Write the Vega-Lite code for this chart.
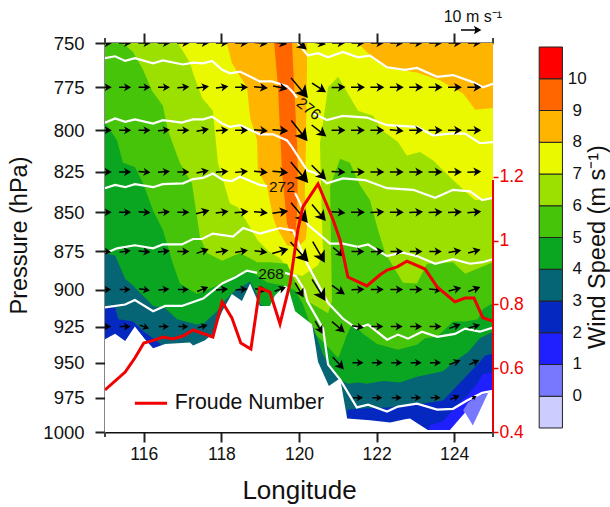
{"$schema":"https://vega.github.io/schema/vega-lite/v6.json","width":388,"height":389,"autosize":"none","padding":{"left":105,"top":43,"right":117,"bottom":75},"background":"white","config":{"view":{"stroke":null},"font":"Liberation Sans","text":{"font":"Liberation Sans"},"axis":{"labelFont":"Liberation Sans","titleFont":"Liberation Sans"}},
"datasets":{
"poly":[
{"g":"amber","lon":115,"p":750},{"g":"amber","lon":125,"p":750},{"g":"amber","lon":125,"p":1000},{"g":"amber","lon":115,"p":1000},
{"g":"orange","lon":119.36,"p":750},{"g":"orange","lon":119.46,"p":775},{"g":"orange","lon":119.51,"p":800},{"g":"orange","lon":119.56,"p":824},{"g":"orange","lon":119.69,"p":857},{"g":"orange","lon":119.77,"p":863},{"g":"orange","lon":119.9,"p":863},{"g":"orange","lon":119.95,"p":853},{"g":"orange","lon":119.97,"p":822},{"g":"orange","lon":119.95,"p":808},{"g":"orange","lon":119.82,"p":750},
{"g":"yellow","lon":115,"p":750},{"g":"yellow","lon":118.14,"p":750},{"g":"yellow","lon":118.27,"p":761},{"g":"yellow","lon":118.4,"p":766},{"g":"yellow","lon":118.66,"p":775},{"g":"yellow","lon":118.74,"p":792.5},{"g":"yellow","lon":118.92,"p":806},{"g":"yellow","lon":118.94,"p":824},{"g":"yellow","lon":119.18,"p":834.5},{"g":"yellow","lon":119.33,"p":853},{"g":"yellow","lon":119.43,"p":860},{"g":"yellow","lon":119.69,"p":871},{"g":"yellow","lon":119.97,"p":872.5},{"g":"yellow","lon":120.18,"p":867},{"g":"yellow","lon":120.21,"p":858},{"g":"yellow","lon":120.15,"p":838},{"g":"yellow","lon":120.18,"p":808},{"g":"yellow","lon":120.21,"p":755.7},{"g":"yellow","lon":120.21,"p":750},{"g":"yellow","lon":121.52,"p":750},{"g":"yellow","lon":121.78,"p":755.7},{"g":"yellow","lon":122.27,"p":764},{"g":"yellow","lon":123.04,"p":766.5},{"g":"yellow","lon":123.63,"p":771},{"g":"yellow","lon":124.23,"p":778.5},{"g":"yellow","lon":124.54,"p":788},{"g":"yellow","lon":125,"p":787},{"g":"yellow","lon":125,"p":1000},{"g":"yellow","lon":115,"p":1000},
{"g":"yg","lon":115,"p":750},{"g":"yg","lon":116.88,"p":750},{"g":"yg","lon":117.19,"p":761},{"g":"yg","lon":117.27,"p":767},{"g":"yg","lon":117.5,"p":781},{"g":"yg","lon":117.78,"p":788.5},{"g":"yg","lon":117.91,"p":819.5},{"g":"yg","lon":118.22,"p":844.5},{"g":"yg","lon":118.43,"p":847},{"g":"yg","lon":118.94,"p":868},{"g":"yg","lon":119.2,"p":874.5},{"g":"yg","lon":119.51,"p":879.6},{"g":"yg","lon":119.85,"p":889.5},{"g":"yg","lon":120.08,"p":891},{"g":"yg","lon":120.49,"p":884},{"g":"yg","lon":120.62,"p":876},{"g":"yg","lon":120.59,"p":855},{"g":"yg","lon":120.54,"p":807.7},{"g":"yg","lon":120.75,"p":775},{"g":"yg","lon":121.01,"p":769},{"g":"yg","lon":121.26,"p":778.5},{"g":"yg","lon":121.52,"p":788.5},{"g":"yg","lon":121.91,"p":791.5},{"g":"yg","lon":122.14,"p":800},{"g":"yg","lon":122.55,"p":807},{"g":"yg","lon":122.78,"p":815},{"g":"yg","lon":123.12,"p":813},{"g":"yg","lon":123.45,"p":818},{"g":"yg","lon":123.97,"p":830},{"g":"yg","lon":124.33,"p":838},{"g":"yg","lon":124.54,"p":842.5},{"g":"yg","lon":125,"p":840.5},{"g":"yg","lon":125,"p":1000},{"g":"yg","lon":115,"p":1000},
{"g":"green","lon":115,"p":750},{"g":"green","lon":115.46,"p":750},{"g":"green","lon":115.72,"p":755},{"g":"green","lon":115.98,"p":765},{"g":"green","lon":116.21,"p":777},{"g":"green","lon":116.49,"p":785.5},{"g":"green","lon":116.62,"p":800},{"g":"green","lon":116.93,"p":819.6},{"g":"green","lon":117.24,"p":832},{"g":"green","lon":117.45,"p":866},{"g":"green","lon":117.63,"p":876},{"g":"green","lon":118.02,"p":881},{"g":"green","lon":118.48,"p":876},{"g":"green","lon":118.92,"p":882},{"g":"green","lon":119.25,"p":882},{"g":"green","lon":119.69,"p":883},{"g":"green","lon":119.95,"p":897},{"g":"green","lon":120.21,"p":907.6},{"g":"green","lon":120.75,"p":916},{"g":"green","lon":120.85,"p":907.6},{"g":"green","lon":120.82,"p":862},{"g":"green","lon":120.8,"p":834},{"g":"green","lon":121.06,"p":817},{"g":"green","lon":121.31,"p":819.5},{"g":"green","lon":121.57,"p":833},{"g":"green","lon":121.83,"p":842.5},{"g":"green","lon":122.04,"p":861.5},{"g":"green","lon":122.22,"p":876},{"g":"green","lon":122.68,"p":895.5},{"g":"green","lon":123.04,"p":896},{"g":"green","lon":123.3,"p":883},{"g":"green","lon":123.97,"p":882},{"g":"green","lon":124.28,"p":889.5},{"g":"green","lon":125,"p":882},{"g":"green","lon":125,"p":1000},{"g":"green","lon":115,"p":1000},
{"g":"dkgreen","lon":115,"p":795.4},{"g":"dkgreen","lon":115.31,"p":806},{"g":"dkgreen","lon":115.46,"p":819.5},{"g":"dkgreen","lon":115.77,"p":822},{"g":"dkgreen","lon":115.98,"p":832},{"g":"dkgreen","lon":116.24,"p":849},{"g":"dkgreen","lon":116.49,"p":861},{"g":"dkgreen","lon":116.75,"p":883},{"g":"dkgreen","lon":116.93,"p":896},{"g":"dkgreen","lon":117.37,"p":903},{"g":"dkgreen","lon":118.02,"p":896},{"g":"dkgreen","lon":118.4,"p":890},{"g":"dkgreen","lon":118.74,"p":887.5},{"g":"dkgreen","lon":119.18,"p":895.4},{"g":"dkgreen","lon":119.59,"p":897.4},{"g":"dkgreen","lon":119.9,"p":900.7},{"g":"dkgreen","lon":120.1,"p":909.7},{"g":"dkgreen","lon":120.36,"p":928.5},{"g":"dkgreen","lon":120.75,"p":939},{"g":"dkgreen","lon":121.01,"p":947},{"g":"dkgreen","lon":121.24,"p":930.5},{"g":"dkgreen","lon":121.37,"p":923},{"g":"dkgreen","lon":121.65,"p":930},{"g":"dkgreen","lon":122.01,"p":937},{"g":"dkgreen","lon":122.3,"p":939},{"g":"dkgreen","lon":122.55,"p":941},{"g":"dkgreen","lon":123.04,"p":937.5},{"g":"dkgreen","lon":123.25,"p":933},{"g":"dkgreen","lon":123.56,"p":932},{"g":"dkgreen","lon":123.97,"p":921.5},{"g":"dkgreen","lon":124.28,"p":921.5},{"g":"dkgreen","lon":124.61,"p":920},{"g":"dkgreen","lon":124.74,"p":913},{"g":"dkgreen","lon":125,"p":909},{"g":"dkgreen","lon":125,"p":1000},{"g":"dkgreen","lon":115,"p":1000},
{"g":"teal","lon":115,"p":876.3},{"g":"teal","lon":115.26,"p":877.6},{"g":"teal","lon":115.52,"p":892.8},{"g":"teal","lon":115.72,"p":897.4},{"g":"teal","lon":116.24,"p":911},{"g":"teal","lon":116.55,"p":912.5},{"g":"teal","lon":116.86,"p":920},{"g":"teal","lon":117.37,"p":923.6},{"g":"teal","lon":117.53,"p":923},{"g":"teal","lon":117.89,"p":914.6},{"g":"teal","lon":118.02,"p":909},{"g":"teal","lon":118.35,"p":900.7},{"g":"teal","lon":118.74,"p":894.7},{"g":"teal","lon":118.94,"p":904},{"g":"teal","lon":118.99,"p":910},{"g":"teal","lon":119.33,"p":912.5},{"g":"teal","lon":119.64,"p":928.5},{"g":"teal","lon":120.15,"p":928.5},{"g":"teal","lon":120.34,"p":923.6},{"g":"teal","lon":120.62,"p":944.5},{"g":"teal","lon":120.88,"p":956},{"g":"teal","lon":121.06,"p":962},{"g":"teal","lon":121.26,"p":965},{"g":"teal","lon":121.52,"p":964},{"g":"teal","lon":121.75,"p":965},{"g":"teal","lon":122.16,"p":963},{"g":"teal","lon":122.6,"p":964},{"g":"teal","lon":123.04,"p":960},{"g":"teal","lon":123.71,"p":956},{"g":"teal","lon":124.02,"p":949},{"g":"teal","lon":124.36,"p":942.5},{"g":"teal","lon":124.66,"p":933},{"g":"teal","lon":125,"p":928.5},{"g":"teal","lon":125,"p":1000},{"g":"teal","lon":115,"p":1000},
{"g":"dkblueL","lon":115,"p":911.5},{"g":"dkblueL","lon":115.26,"p":912},{"g":"dkblueL","lon":115.34,"p":920},{"g":"dkblueL","lon":115.72,"p":921.5},{"g":"dkblueL","lon":115.98,"p":928},{"g":"dkblueL","lon":116.29,"p":934},{"g":"dkblueL","lon":116.67,"p":942.5},{"g":"dkblueL","lon":115,"p":942.5},
{"g":"dkblueR","lon":121.24,"p":983.5},{"g":"dkblueR","lon":121.57,"p":983},{"g":"dkblueR","lon":122.27,"p":982},{"g":"dkblueR","lon":122.78,"p":980.7},{"g":"dkblueR","lon":123.38,"p":978.5},{"g":"dkblueR","lon":123.71,"p":977},{"g":"dkblueR","lon":124.02,"p":968},{"g":"dkblueR","lon":124.23,"p":962},{"g":"dkblueR","lon":124.59,"p":951.5},{"g":"dkblueR","lon":124.8,"p":945},{"g":"dkblueR","lon":125,"p":943.7},{"g":"dkblueR","lon":125,"p":1000},{"g":"dkblueR","lon":121.24,"p":1000},
{"g":"blue","lon":123.32,"p":1000},{"g":"blue","lon":123.38,"p":995},{"g":"blue","lon":123.71,"p":992},{"g":"blue","lon":124.02,"p":982},{"g":"blue","lon":124.33,"p":973.6},{"g":"blue","lon":124.59,"p":965},{"g":"blue","lon":124.74,"p":958},{"g":"blue","lon":125,"p":957},{"g":"blue","lon":125,"p":1000},
{"g":"lav","lon":124.23,"p":984},{"g":"lav","lon":124.48,"p":995},{"g":"lav","lon":124.87,"p":971.5},{"g":"lav","lon":124.61,"p":973.6},{"g":"lav","lon":124.36,"p":978.5},
{"g":"terrain","lon":115,"p":933.7},{"g":"terrain","lon":115.26,"p":930},{"g":"terrain","lon":115.52,"p":935},{"g":"terrain","lon":115.77,"p":925},{"g":"terrain","lon":116.03,"p":933.7},{"g":"terrain","lon":116.24,"p":940},{"g":"terrain","lon":116.55,"p":937},{"g":"terrain","lon":117.19,"p":936},{"g":"terrain","lon":117.27,"p":938},{"g":"terrain","lon":117.58,"p":934.4},{"g":"terrain","lon":117.78,"p":930},{"g":"terrain","lon":118.02,"p":914.6},{"g":"terrain","lon":118.27,"p":903},{"g":"terrain","lon":118.53,"p":907.6},{"g":"terrain","lon":118.74,"p":896},{"g":"terrain","lon":118.99,"p":911},{"g":"terrain","lon":119.25,"p":911},{"g":"terrain","lon":119.38,"p":904},{"g":"terrain","lon":119.64,"p":897.4},{"g":"terrain","lon":119.72,"p":898.7},{"g":"terrain","lon":119.9,"p":914.6},{"g":"terrain","lon":120.34,"p":923.6},{"g":"terrain","lon":120.49,"p":949.3},{"g":"terrain","lon":120.77,"p":966.6},{"g":"terrain","lon":121.06,"p":961},{"g":"terrain","lon":121.24,"p":990},{"g":"terrain","lon":121.83,"p":991.4},{"g":"terrain","lon":122.35,"p":993},{"g":"terrain","lon":122.73,"p":990.7},{"g":"terrain","lon":122.86,"p":990},{"g":"terrain","lon":123.32,"p":998.6},{"g":"terrain","lon":123.89,"p":998.6},{"g":"terrain","lon":124.28,"p":985.7},{"g":"terrain","lon":124.48,"p":995},{"g":"terrain","lon":124.87,"p":971.5},{"g":"terrain","lon":125,"p":970},{"g":"terrain","lon":125,"p":1000},{"g":"terrain","lon":115,"p":1000}
],
"theta":[
{"k":"T","lon":119.97,"p":750},{"k":"T","lon":120.23,"p":757},{"k":"T","lon":120.49,"p":755.7},{"k":"T","lon":120.75,"p":758},{"k":"T","lon":121.13,"p":755},{"k":"T","lon":121.52,"p":758},{"k":"T","lon":121.83,"p":757},{"k":"T","lon":122.27,"p":763.6},{"k":"T","lon":122.73,"p":765},{"k":"T","lon":123.04,"p":764},{"k":"T","lon":123.56,"p":769},{"k":"T","lon":123.97,"p":768},{"k":"T","lon":124.48,"p":772},{"k":"T","lon":124.74,"p":775},{"k":"T","lon":125,"p":773},
{"k":"A1","lon":115,"p":758.5},{"k":"A1","lon":115.26,"p":757.4},{"k":"A1","lon":115.52,"p":760},{"k":"A1","lon":115.77,"p":758.5},{"k":"A1","lon":116.24,"p":761.4},{"k":"A1","lon":116.49,"p":759.7},{"k":"A1","lon":117.01,"p":762},{"k":"A1","lon":117.27,"p":761},{"k":"A1","lon":117.53,"p":761.4},{"k":"A1","lon":117.76,"p":760},{"k":"A1","lon":118.02,"p":765},{"k":"A1","lon":118.22,"p":767},{"k":"A1","lon":118.48,"p":766},{"k":"A1","lon":118.99,"p":771.6},{"k":"A1","lon":119.3,"p":771.6},{"k":"A1","lon":119.69,"p":774.4},{"k":"A1","lon":119.85,"p":778},{"k":"A1","lon":119.95,"p":781},
{"k":"A2","lon":120.36,"p":790},{"k":"A2","lon":120.72,"p":794},{"k":"A2","lon":121.13,"p":791.5},{"k":"A2","lon":121.75,"p":792.5},{"k":"A2","lon":122.27,"p":797},{"k":"A2","lon":123.04,"p":798},{"k":"A2","lon":123.45,"p":803},{"k":"A2","lon":123.89,"p":802},{"k":"A2","lon":124.28,"p":802},{"k":"A2","lon":124.66,"p":807.7},{"k":"A2","lon":125,"p":807},
{"k":"B","lon":115,"p":795.5},{"k":"B","lon":115.26,"p":793},{"k":"B","lon":115.52,"p":795},{"k":"B","lon":115.77,"p":793.6},{"k":"B","lon":116.24,"p":796},{"k":"B","lon":116.49,"p":794},{"k":"B","lon":116.98,"p":795.5},{"k":"B","lon":117.27,"p":793.6},{"k":"B","lon":117.53,"p":793.6},{"k":"B","lon":117.76,"p":792},{"k":"B","lon":118.02,"p":796},{"k":"B","lon":118.22,"p":798},{"k":"B","lon":118.48,"p":797},{"k":"B","lon":118.99,"p":802.4},{"k":"B","lon":119.33,"p":802.4},{"k":"B","lon":119.69,"p":806},{"k":"B","lon":119.82,"p":810},{"k":"B","lon":120.21,"p":824},{"k":"B","lon":120.41,"p":825.6},{"k":"B","lon":120.72,"p":832},{"k":"B","lon":121.13,"p":829},{"k":"B","lon":121.7,"p":830},{"k":"B","lon":122.27,"p":835},{"k":"B","lon":122.94,"p":836},{"k":"B","lon":123.51,"p":841},{"k":"B","lon":123.97,"p":836},{"k":"B","lon":124.41,"p":837},{"k":"B","lon":124.72,"p":842.4},{"k":"B","lon":125,"p":841},
{"k":"C1","lon":115,"p":835},{"k":"C1","lon":115.26,"p":833},{"k":"C1","lon":115.52,"p":834.4},{"k":"C1","lon":115.77,"p":832.5},{"k":"C1","lon":116.24,"p":834.4},{"k":"C1","lon":116.49,"p":832.5},{"k":"C1","lon":117.01,"p":832},{"k":"C1","lon":117.27,"p":829.4},{"k":"C1","lon":117.53,"p":828.7},{"k":"C1","lon":117.78,"p":826},{"k":"C1","lon":118.04,"p":830},{"k":"C1","lon":118.27,"p":830.6},{"k":"C1","lon":118.48,"p":828},{"k":"C1","lon":118.99,"p":833},{"k":"C1","lon":119.18,"p":833.7},
{"k":"C2","lon":119.9,"p":838},{"k":"C2","lon":120.03,"p":844.4},{"k":"C2","lon":120.23,"p":858},{"k":"C2","lon":120.62,"p":866},{"k":"C2","lon":120.8,"p":870},{"k":"C2","lon":121.13,"p":870},{"k":"C2","lon":121.52,"p":872},{"k":"C2","lon":121.78,"p":870.5},{"k":"C2","lon":122.27,"p":878},{"k":"C2","lon":122.65,"p":875.6},{"k":"C2","lon":123.04,"p":878},{"k":"C2","lon":123.51,"p":883},{"k":"C2","lon":123.97,"p":880},{"k":"C2","lon":124.41,"p":883},{"k":"C2","lon":124.74,"p":882},{"k":"C2","lon":125,"p":880},
{"k":"D","lon":115,"p":876.3},{"k":"D","lon":115.31,"p":873},{"k":"D","lon":115.77,"p":871},{"k":"D","lon":116.24,"p":873},{"k":"D","lon":116.49,"p":870.5},{"k":"D","lon":116.98,"p":870.5},{"k":"D","lon":117.27,"p":867},{"k":"D","lon":117.5,"p":867},{"k":"D","lon":117.78,"p":863.5},{"k":"D","lon":118.3,"p":865.4},{"k":"D","lon":118.56,"p":860},{"k":"D","lon":118.99,"p":863.5},{"k":"D","lon":119.51,"p":860},{"k":"D","lon":119.85,"p":861.6},{"k":"D","lon":119.97,"p":869},{"k":"D","lon":120.21,"p":883},{"k":"D","lon":120.75,"p":909},{"k":"D","lon":121.13,"p":919.5},{"k":"D","lon":121.49,"p":926.4},{"k":"D","lon":121.78,"p":923.6},{"k":"D","lon":122.27,"p":934},{"k":"D","lon":122.55,"p":930.5},{"k":"D","lon":122.81,"p":933.3},{"k":"D","lon":123.17,"p":928.5},{"k":"D","lon":123.56,"p":932},{"k":"D","lon":124.02,"p":930},{"k":"D","lon":124.28,"p":926.4},{"k":"D","lon":124.66,"p":928.5},{"k":"D","lon":125,"p":925.7},
{"k":"E1","lon":115,"p":912},{"k":"E1","lon":115.52,"p":910},{"k":"E1","lon":115.77,"p":907},{"k":"E1","lon":116.24,"p":914.6},{"k":"E1","lon":116.55,"p":911},{"k":"E1","lon":116.98,"p":911},{"k":"E1","lon":117.53,"p":906},{"k":"E1","lon":118.02,"p":896},{"k":"E1","lon":118.35,"p":892},{"k":"E1","lon":118.66,"p":887.5},{"k":"E1","lon":118.92,"p":889},
{"k":"E2","lon":119.64,"p":889},{"k":"E2","lon":119.92,"p":891},{"k":"E2","lon":120.15,"p":900.7},{"k":"E2","lon":120.21,"p":907.6},{"k":"E2","lon":120.62,"p":926.4},{"k":"E2","lon":120.75,"p":951.4},{"k":"E2","lon":121.06,"p":962},{"k":"E2","lon":121.49,"p":982},{"k":"E2","lon":121.78,"p":980},{"k":"E2","lon":122.27,"p":985},{"k":"E2","lon":122.55,"p":981.4},{"k":"E2","lon":123.04,"p":979.3},{"k":"E2","lon":123.56,"p":983.6},{"k":"E2","lon":123.97,"p":983},{"k":"E2","lon":124.33,"p":977},{"k":"E2","lon":124.72,"p":971.5},{"k":"E2","lon":125,"p":970}
],
"wind":[
{"lon":115,"p":750,"a":0,"s":5.8},{"lon":115.5,"p":750,"a":0,"s":5.8},{"lon":116,"p":750,"a":0,"s":5.8},{"lon":116.5,"p":750,"a":0,"s":5.8},{"lon":117,"p":750,"a":0,"s":5.8},{"lon":117.5,"p":750,"a":0,"s":5.8},{"lon":118,"p":750,"a":0,"s":5.8},{"lon":118.5,"p":750,"a":0,"s":6},{"lon":119,"p":750,"a":5,"s":6},{"lon":119.5,"p":750,"a":8,"s":6.5},{"lon":120,"p":750,"a":40,"s":9},{"lon":120.5,"p":750,"a":10,"s":6.5},{"lon":121,"p":750,"a":0,"s":6},{"lon":121.5,"p":750,"a":0,"s":6},{"lon":122,"p":750,"a":0,"s":6},{"lon":122.5,"p":750,"a":0,"s":6},{"lon":123,"p":750,"a":0,"s":6},{"lon":123.5,"p":750,"a":0,"s":6},{"lon":124,"p":750,"a":0,"s":6},{"lon":124.5,"p":750,"a":0,"s":6},
{"lon":115,"p":775,"a":0,"s":5.5},{"lon":115.5,"p":775,"a":0,"s":5.5},{"lon":116,"p":775,"a":0,"s":5.5},{"lon":116.5,"p":775,"a":0,"s":5.5},{"lon":117,"p":775,"a":-5,"s":5.5},{"lon":117.5,"p":775,"a":-8,"s":5.8},{"lon":118,"p":775,"a":-8,"s":5.8},{"lon":118.5,"p":775,"a":0,"s":6},{"lon":119,"p":775,"a":5,"s":6.5},{"lon":119.5,"p":775,"a":12,"s":7},{"lon":120,"p":775,"a":50,"s":13},{"lon":120.5,"p":775,"a":33,"s":8},{"lon":121,"p":775,"a":-2,"s":6.5},{"lon":121.5,"p":775,"a":0,"s":6.5},{"lon":122,"p":775,"a":0,"s":6.5},{"lon":122.5,"p":775,"a":0,"s":6.5},{"lon":123,"p":775,"a":0,"s":6.5},{"lon":123.5,"p":775,"a":0,"s":6.5},{"lon":124,"p":775,"a":0,"s":6.5},{"lon":124.5,"p":775,"a":0,"s":6.5},
{"lon":115,"p":800,"a":0,"s":5.5},{"lon":115.5,"p":800,"a":0,"s":5.5},{"lon":116,"p":800,"a":0,"s":5.5},{"lon":116.5,"p":800,"a":-5,"s":5.5},{"lon":117,"p":800,"a":0,"s":5.5},{"lon":117.5,"p":800,"a":-10,"s":5.8},{"lon":118,"p":800,"a":-5,"s":5.8},{"lon":118.5,"p":800,"a":0,"s":6},{"lon":119,"p":800,"a":5,"s":6.5},{"lon":119.5,"p":800,"a":5,"s":7.5},{"lon":120,"p":800,"a":52,"s":13},{"lon":120.5,"p":800,"a":38,"s":9},{"lon":121,"p":800,"a":0,"s":6.5},{"lon":121.5,"p":800,"a":0,"s":6.5},{"lon":122,"p":800,"a":0,"s":6.5},{"lon":122.5,"p":800,"a":5,"s":6.5},{"lon":123,"p":800,"a":0,"s":6.5},{"lon":123.5,"p":800,"a":0,"s":6.5},{"lon":124,"p":800,"a":0,"s":6.5},{"lon":124.5,"p":800,"a":0,"s":6.5},
{"lon":115,"p":825,"a":0,"s":5.5},{"lon":115.5,"p":825,"a":0,"s":5.5},{"lon":116,"p":825,"a":5,"s":5.5},{"lon":116.5,"p":825,"a":-5,"s":5.5},{"lon":117,"p":825,"a":0,"s":5.5},{"lon":117.5,"p":825,"a":-12,"s":5.8},{"lon":118,"p":825,"a":-5,"s":5.8},{"lon":118.5,"p":825,"a":-5,"s":6},{"lon":119,"p":825,"a":5,"s":6.5},{"lon":119.5,"p":825,"a":5,"s":7.5},{"lon":120,"p":825,"a":50,"s":13.5},{"lon":120.5,"p":825,"a":45,"s":10},{"lon":121,"p":825,"a":3,"s":6.5},{"lon":121.5,"p":825,"a":0,"s":6.5},{"lon":122,"p":825,"a":0,"s":6.5},{"lon":122.5,"p":825,"a":0,"s":6.5},{"lon":123,"p":825,"a":0,"s":6.5},{"lon":123.5,"p":825,"a":0,"s":6.5},{"lon":124,"p":825,"a":0,"s":6.5},{"lon":124.5,"p":825,"a":-3,"s":6.5},
{"lon":115,"p":850,"a":0,"s":5.5},{"lon":115.5,"p":850,"a":0,"s":5.5},{"lon":116,"p":850,"a":5,"s":5.5},{"lon":116.5,"p":850,"a":-5,"s":5.5},{"lon":117,"p":850,"a":0,"s":5.5},{"lon":117.5,"p":850,"a":-15,"s":6.5},{"lon":118,"p":850,"a":-8,"s":6},{"lon":118.5,"p":850,"a":-5,"s":6.5},{"lon":119,"p":850,"a":5,"s":6.5},{"lon":119.5,"p":850,"a":-8,"s":7.5},{"lon":120,"p":850,"a":50,"s":13},{"lon":120.5,"p":850,"a":50,"s":10.5},{"lon":121,"p":850,"a":5,"s":6.5},{"lon":121.5,"p":850,"a":0,"s":6.5},{"lon":122,"p":850,"a":-3,"s":6.5},{"lon":122.5,"p":850,"a":0,"s":6.5},{"lon":123,"p":850,"a":-3,"s":6.5},{"lon":123.5,"p":850,"a":-3,"s":6.5},{"lon":124,"p":850,"a":-3,"s":6.5},{"lon":124.5,"p":850,"a":-5,"s":6.5},
{"lon":115,"p":875,"a":8,"s":5},{"lon":115.5,"p":875,"a":-8,"s":5.2},{"lon":116,"p":875,"a":5,"s":5.5},{"lon":116.5,"p":875,"a":-5,"s":5.5},{"lon":117,"p":875,"a":0,"s":5.5},{"lon":117.5,"p":875,"a":-20,"s":6},{"lon":118,"p":875,"a":-10,"s":6},{"lon":118.5,"p":875,"a":-10,"s":6},{"lon":119,"p":875,"a":8,"s":6},{"lon":119.5,"p":875,"a":-16,"s":8},{"lon":120,"p":875,"a":48,"s":13.5},{"lon":120.5,"p":875,"a":60,"s":12},{"lon":121,"p":875,"a":40,"s":6.5},{"lon":121.5,"p":875,"a":0,"s":6},{"lon":122,"p":875,"a":-3,"s":6},{"lon":122.5,"p":875,"a":0,"s":5.8},{"lon":123,"p":875,"a":0,"s":5.8},{"lon":123.5,"p":875,"a":0,"s":5.8},{"lon":124,"p":875,"a":-10,"s":6},{"lon":124.5,"p":875,"a":-15,"s":6},
{"lon":115,"p":900,"a":0,"s":5},{"lon":115.5,"p":900,"a":0,"s":5},{"lon":116,"p":900,"a":10,"s":5},{"lon":116.5,"p":900,"a":-5,"s":5},{"lon":117,"p":900,"a":0,"s":5},{"lon":117.5,"p":900,"a":-22,"s":5.5},{"lon":118,"p":900,"a":-5,"s":5.5},{"lon":118.5,"p":900,"a":-5,"s":5.5},{"lon":119,"p":900,"a":8,"s":5.5},{"lon":119.5,"p":900,"a":-20,"s":5.5},{"lon":120,"p":900,"a":60,"s":8},{"lon":120.5,"p":900,"a":58,"s":12.5},{"lon":121,"p":900,"a":35,"s":7.5},{"lon":121.5,"p":900,"a":-3,"s":6},{"lon":122,"p":900,"a":0,"s":6},{"lon":122.5,"p":900,"a":0,"s":6},{"lon":123,"p":900,"a":0,"s":6},{"lon":123.5,"p":900,"a":5,"s":6},{"lon":124,"p":900,"a":-15,"s":6},{"lon":124.5,"p":900,"a":-20,"s":6},
{"lon":115,"p":925,"a":0,"s":5},{"lon":115.5,"p":925,"a":0,"s":5},{"lon":116,"p":925,"a":20,"s":4.5},{"lon":116.5,"p":925,"a":0,"s":4.5},{"lon":117,"p":925,"a":0,"s":4.5},{"lon":117.5,"p":925,"a":-15,"s":4.5},{"lon":120.5,"p":925,"a":60,"s":7},{"lon":121,"p":925,"a":40,"s":8},{"lon":121.5,"p":925,"a":10,"s":5.5},{"lon":122,"p":925,"a":0,"s":5.5},{"lon":122.5,"p":925,"a":0,"s":5.5},{"lon":123,"p":925,"a":0,"s":5.5},{"lon":123.5,"p":925,"a":0,"s":5.5},{"lon":124,"p":925,"a":-20,"s":5.5},{"lon":124.5,"p":925,"a":-15,"s":5.5},
{"lon":121,"p":950,"a":48,"s":8},{"lon":121.5,"p":950,"a":0,"s":5},{"lon":122,"p":950,"a":0,"s":5},{"lon":122.5,"p":950,"a":0,"s":5},{"lon":123,"p":950,"a":0,"s":5},{"lon":123.5,"p":950,"a":0,"s":5},{"lon":124,"p":950,"a":-20,"s":5.5},{"lon":124.5,"p":950,"a":-25,"s":5},
{"lon":121.5,"p":975,"a":0,"s":4.5},{"lon":122,"p":975,"a":0,"s":4.5},{"lon":122.5,"p":975,"a":0,"s":4.5},{"lon":123,"p":975,"a":0,"s":4.5},{"lon":123.5,"p":975,"a":0,"s":4.5},{"lon":124,"p":975,"a":-22,"s":4.5},{"lon":124.5,"p":975,"a":-30,"s":2}
],
"froude":[
{"lon":115,"f":0.532},{"lon":115.52,"f":0.588},{"lon":115.77,"f":0.632},{"lon":116,"f":0.679},{"lon":116.29,"f":0.689},{"lon":116.49,"f":0.698},{"lon":116.75,"f":0.692},{"lon":117.01,"f":0.701},{"lon":117.27,"f":0.72},{"lon":117.78,"f":0.698},{"lon":118.02,"f":0.808},{"lon":118.27,"f":0.758},{"lon":118.5,"f":0.679},{"lon":118.76,"f":0.66},{"lon":118.99,"f":0.852},{"lon":119.25,"f":0.839},{"lon":119.51,"f":0.739},{"lon":119.77,"f":0.867},{"lon":119.97,"f":1.034},{"lon":120.1,"f":1.106},{"lon":120.49,"f":1.178},{"lon":120.88,"f":1.065},{"lon":121.06,"f":1.002},{"lon":121.26,"f":0.886},{"lon":121.75,"f":0.858},{"lon":122.09,"f":0.893},{"lon":122.27,"f":0.908},{"lon":122.53,"f":0.918},{"lon":122.78,"f":0.936},{"lon":123.25,"f":0.911},{"lon":123.56,"f":0.855},{"lon":124.02,"f":0.808},{"lon":124.28,"f":0.82},{"lon":124.51,"f":0.82},{"lon":124.74,"f":0.758},{"lon":125,"f":0.748}
],
"bar":[
{"lon":126.19,"lon2":126.79,"lo":-1,"hi":0,"c":"b00"},{"lon":126.19,"lon2":126.79,"lo":0,"hi":1,"c":"b01"},{"lon":126.19,"lon2":126.79,"lo":1,"hi":2,"c":"b02"},{"lon":126.19,"lon2":126.79,"lo":2,"hi":3,"c":"b03"},{"lon":126.19,"lon2":126.79,"lo":3,"hi":4,"c":"b04"},{"lon":126.19,"lon2":126.79,"lo":4,"hi":5,"c":"b05"},{"lon":126.19,"lon2":126.79,"lo":5,"hi":6,"c":"b06"},{"lon":126.19,"lon2":126.79,"lo":6,"hi":7,"c":"b07"},{"lon":126.19,"lon2":126.79,"lo":7,"hi":8,"c":"b08"},{"lon":126.19,"lon2":126.79,"lo":8,"hi":9,"c":"b09"},{"lon":126.19,"lon2":126.79,"lo":9,"hi":10,"c":"b10"},{"lon":126.19,"lon2":126.79,"lo":10,"hi":11,"c":"b11"}
]
},
"encoding":{
"x":{"field":"lon","type":"quantitative","scale":{"domain":[115,125],"nice":false,"zero":false},"axis":null},
"y":{"field":"p","type":"quantitative","scale":{"type":"log","domain":[750,1000],"nice":false,"reverse":true},"axis":null}
},
"layer":[
{"data":{"name":"poly"},"mark":{"type":"line","order":null,"filled":true,"strokeWidth":0,"clip":true},
"encoding":{
"x":{"field":"lon","type":"quantitative","scale":{"domain":[115,125],"nice":false,"zero":false},"axis":{"orient":"bottom","values":[116,118,120,122,124],"title":"Longitude","grid":false,"tickSize":10,"tickWidth":2,"tickColor":"#222","domainColor":"#111","domainWidth":2,"labelFontSize":17.5,"labelColor":"#111","labelPadding":3,"titleFontSize":26,"titleFontWeight":"normal","titleColor":"#111","titlePadding":15,"format":"d"}},
"y":{"field":"p","type":"quantitative","scale":{"type":"log","domain":[750,1000],"nice":false,"reverse":true},"axis":{"orient":"left","values":[750,775,800,825,850,875,900,925,950,975,1000],"title":"Pressure (hPa)","grid":false,"tickSize":10,"tickWidth":2,"tickColor":"#222","domainColor":"#111","domainWidth":2,"labelFontSize":18.5,"labelColor":"#111","labelPadding":11,"titleFontSize":23.5,"titleFontWeight":"normal","titleColor":"#111","titlePadding":11,"titleY":192,"format":"d"}},
"fill":{"field":"g","type":"nominal","legend":null,"scale":{"domain":["amber","orange","yellow","yg","green","dkgreen","teal","dkblueL","dkblueR","blue","lav","terrain"],"range":["#ffb400","#ff6600","#eaf900","#9be000","#46c40a","#0aa521","#056574","#0428c0","#0428c0","#2020ff","#7878ff","#ffffff"]}}
}},
{"data":{"name":"theta"},"mark":{"type":"line","color":"white","strokeWidth":2.2,"clip":true},
"encoding":{
"x":{"field":"lon","type":"quantitative","scale":{"domain":[115,125],"nice":false,"zero":false},"axis":{"orient":"top","values":[116,118,120,122,124],"title":null,"labels":false,"grid":false,"tickSize":10,"tickWidth":2,"tickColor":"#222","domainColor":"#111","domainWidth":2}},
"detail":{"field":"k","type":"nominal"}
}},
{"data":{"name":"wind"},"mark":{"type":"point","filled":true,"clip":true,"shape":"M-1,0L0.7,0M0.25,-0.42L1,0L0.25,0.42L0.45,0Z","color":"black","stroke":"black","strokeWidth":1.5,"opacity":1},
"encoding":{
"size":{"field":"s","type":"quantitative","legend":null,"scale":{"type":"pow","exponent":2,"domain":[0,10],"range":[0,361]}},
"angle":{"field":"a","type":"quantitative","scale":null}
}},
{"data":{"name":"froude"},"mark":{"type":"line","color":"#f00000","strokeWidth":3,"clip":true},
"encoding":{
"y":{"field":"f","type":"quantitative","scale":{"domain":[0.4,1.62],"nice":false,"zero":false},"axis":{"orient":"right","values":[0.4,0.6,0.8,1,1.2],"title":null,"grid":false,"domain":false,"tickColor":"#f00000","tickSize":5,"tickWidth":1.5,"labelColor":"#f00000","labelFontSize":17.5,"labelPadding":1,"labelExpr":"'' + datum.value"}}
}},
{"data":{"values":[{"lon":125,"f":0.4,"f2":1.19}]},"mark":{"type":"rule","color":"#f00000","strokeWidth":2},
"encoding":{
"y":{"field":"f","type":"quantitative","scale":{"domain":[0.4,1.62],"nice":false,"zero":false},"axis":null},
"y2":{"field":"f2"}
}},
{"data":{"values":[{"lon":115,"p":1000,"p2":1003.7},{"lon":125,"p":1000,"p2":1003.7},{"lon":115,"p":750,"p2":747.2},{"lon":125,"p":750,"p2":747.2}]},"mark":{"type":"rule","color":"#444","strokeWidth":2},
"encoding":{"y2":{"field":"p2"}}},
{"data":{"values":[{"lon":120.25,"p":787.5,"t":"276","r":38},{"lon":119.56,"p":834,"t":"272","r":0},{"lon":119.28,"p":890,"t":"268","r":0}]},"mark":{"type":"text","fontSize":15.5,"color":"#111","align":"center","baseline":"middle"},
"encoding":{"text":{"field":"t"},"angle":{"field":"r","type":"quantitative","scale":null}}},
{"data":{"values":[{"lon":115.77,"lon2":116.6,"p":979}]},"mark":{"type":"rule","color":"#f00000","strokeWidth":3},
"encoding":{"x2":{"field":"lon2"}}},
{"data":{"values":[{"lon":116.8,"p":979,"t":"Froude Number"}]},"mark":{"type":"text","fontSize":21.3,"color":"#111","align":"left","baseline":"middle"},
"encoding":{"text":{"field":"t"}}},
{"data":{"values":[{"lon":124.48,"p":735.5,"t":"10 m s⁻¹"}]},"mark":{"type":"text","fontSize":16,"color":"#111","align":"center","baseline":"middle"},
"encoding":{"text":{"field":"t"}}},
{"data":{"values":[{"lon":124.42,"p":742.8,"a":0,"s":10}]},"mark":{"type":"point","filled":true,"shape":"M-1,0L0.7,0M0.5,-0.28L1,0L0.5,0.28L0.6,0Z","color":"black","stroke":"black","strokeWidth":1.4,"opacity":1},
"encoding":{
"size":{"field":"s","type":"quantitative","legend":null,"scale":{"type":"pow","exponent":2,"domain":[0,10],"range":[0,361]}}
}},
{"data":{"name":"bar"},"mark":{"type":"rect","stroke":"#222","strokeWidth":1},
"encoding":{
"x2":{"field":"lon2"},
"y":{"field":"lo","type":"quantitative","scale":{"domain":[-1.126,11.126],"nice":false,"zero":false},"axis":null},
"y2":{"field":"hi"},
"fill":{"field":"c","type":"nominal","legend":null,"scale":{"domain":["b00","b01","b02","b03","b04","b05","b06","b07","b08","b09","b10","b11"],"range":["#ccccff","#7878ff","#2020ff","#0428c0","#056574","#0aa521","#46c40a","#9be000","#eaf900","#ffb400","#ff6600","#ff0000"]}}
}},
{"data":{"values":[{"lon":127.17,"w":0},{"lon":127.17,"w":1},{"lon":127.17,"w":2},{"lon":127.17,"w":3},{"lon":127.17,"w":4},{"lon":127.17,"w":5},{"lon":127.17,"w":6},{"lon":127.17,"w":7},{"lon":127.17,"w":8},{"lon":127.17,"w":9},{"lon":127.17,"w":10}]},"mark":{"type":"text","fontSize":17,"color":"#111","align":"center","baseline":"middle"},
"encoding":{
"y":{"field":"w","type":"quantitative","scale":{"domain":[-1.126,11.126],"nice":false,"zero":false},"axis":null},
"text":{"field":"w","type":"quantitative","format":"d"}
}},
{"data":{"values":[{"lon":127.71,"w":4.7,"t":"Wind Speed (m s⁻¹)"}]},"mark":{"type":"text","fontSize":23.5,"color":"#111","align":"center","baseline":"middle","angle":270},
"encoding":{
"y":{"field":"w","type":"quantitative","scale":{"domain":[-1.126,11.126],"nice":false,"zero":false},"axis":null},
"text":{"field":"t"}
}}
],
"resolve":{"scale":{"y":"independent","fill":"independent"},"axis":{"x":"independent","y":"independent"}}
}
